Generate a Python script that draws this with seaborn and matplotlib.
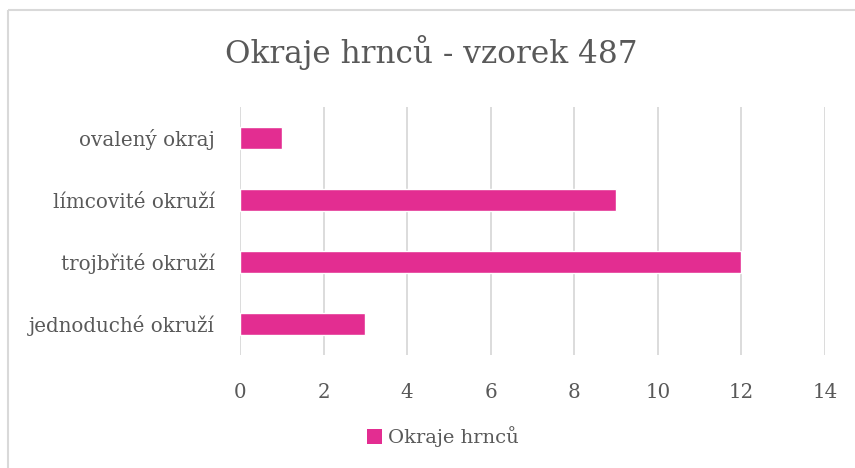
import matplotlib
matplotlib.use("Agg")
import matplotlib.pyplot as plt
import seaborn as sns
import pandas as pd
from matplotlib.patches import Patch
from matplotlib.lines import Line2D

# data (top to bottom)
categories = ['ovalený okraj', 'límcovité okruží', 'trojbřité okruží', 'jednoduché okruží']
counts = [1, 9, 12, 3]
series_name = 'Okraje hrnců'
title = 'Okraje hrnců - vzorek 487'

bar_color = '#E32D91'
text_color = '#595959'
grid_color = '#D9D9D9'

df = pd.DataFrame({'kategorie': categories, 'pocet': counts})

sns.set_style('white')
plt.rcParams['font.family'] = ['DejaVu Serif']

fig = plt.figure(figsize=(8.55, 4.68), dpi=100)
ax = fig.add_axes([240 / 855, 1 - 355 / 468, 585 / 855, 248 / 468])

sns.barplot(data=df, x='pocet', y='kategorie', order=categories, color=bar_color,
            width=0.355, orient='h', ax=ax, saturation=1)

ax.set_xlim(0, 14)
ax.set_xticks(range(0, 15, 2))
ax.set_xlabel('')
ax.set_ylabel('')
ax.grid(axis='x', color=grid_color, linewidth=1.3)
ax.set_axisbelow(True)
for s in ax.spines.values():
    s.set_visible(False)
ax.tick_params(axis='both', length=0, colors=text_color, labelsize=14.3)
ax.tick_params(axis='x', pad=20)
ax.tick_params(axis='y', pad=18)

fig.text(0.505, 1 - 53 / 468, title, ha='center', va='center', fontsize=22.4, color=text_color)

handle = Patch(facecolor=bar_color, edgecolor='none')
fig.legend([handle], [series_name], loc='center', bbox_to_anchor=(443 / 855, 1 - 437 / 468),
           frameon=False, fontsize=14, labelcolor=text_color, handlelength=0.8, handleheight=0.8,
           handletextpad=0.3)

# chart area border: only top and left edges are visible in the original
top_y = 1 - 10 / 468
left_x = 8 / 855
fig.add_artist(Line2D([left_x, 1.02], [top_y, top_y], transform=fig.transFigure,
                      color=grid_color, linewidth=1.5, solid_capstyle='butt'))
fig.add_artist(Line2D([left_x, left_x], [-0.02, top_y], transform=fig.transFigure,
                      color=grid_color, linewidth=1.5, solid_capstyle='butt'))

fig.savefig('out.png', dpi=100)
